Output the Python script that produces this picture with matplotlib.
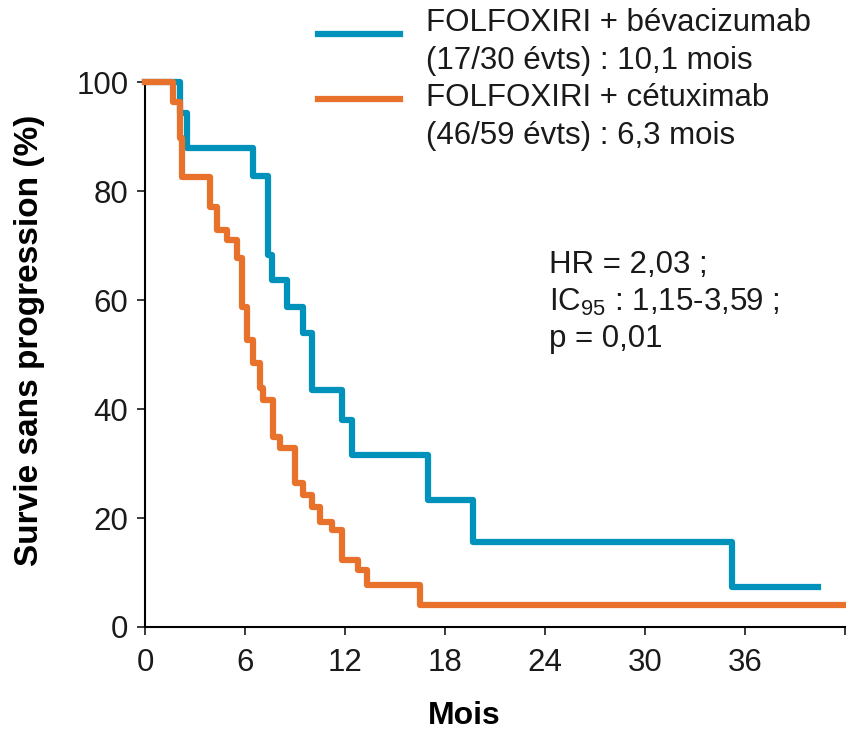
import matplotlib
matplotlib.use('Agg')
import matplotlib.pyplot as plt
from matplotlib.lines import Line2D

plt.rcParams['font.family'] = ['Liberation Sans', 'DejaVu Sans']
plt.rcParams['text.color'] = '#1a1a1a'

# Kaplan-Meier steps (months, % survival)
bev_t = [0, 2.1, 2.5, 6.5, 7.4, 7.6, 8.5, 9.5, 10.0, 11.8, 12.4, 17.0, 19.65, 35.2, 40.4]
bev_s = [100, 94.4, 87.9, 82.8, 68.3, 63.7, 58.7, 54.0, 43.5, 38.0, 31.6, 23.3, 15.6, 7.3, 7.3]

cet_t = [0, 1.7, 2.1, 2.2, 3.9, 4.3, 4.9, 5.5, 5.8, 6.1, 6.5, 6.9, 7.1, 7.7, 8.1, 9.0,
         9.5, 10.0, 10.5, 11.2, 11.8, 12.8, 13.3, 16.5, 42.0]
cet_s = [100, 96.4, 89.8, 82.6, 77.1, 72.9, 71.0, 67.7, 58.7, 52.7, 48.5, 43.9, 41.7, 34.9,
         32.9, 26.4, 24.2, 22.0, 19.3, 17.8, 12.3, 10.5, 7.7, 4.0, 4.0]

blue = '#0092BA'
orange = '#E8722C'

fig = plt.figure(figsize=(8.46, 7.31), dpi=100)
ax = fig.add_axes([145 / 846, 1 - 627 / 731, 700 / 846, (627 - 82.3) / 731])

ax.step(bev_t, bev_s, where='post', color=blue, lw=4.5, clip_on=False, zorder=3)
ax.step(cet_t, cet_s, where='post', color=orange, lw=4.5, clip_on=False, zorder=4)

ax.set_xlim(0, 42)
ax.set_ylim(0, 100)
ax.set_xticks([0, 6, 12, 18, 24, 30, 36, 42])
ax.set_xticklabels(['0', '6', '12', '18', '24', '30', '36', ''])
ax.set_yticks([0, 20, 40, 60, 80, 100])
ax.tick_params(direction='out', length=6, width=1.2, labelsize=22.5, colors='#1a1a1a')
ax.tick_params(axis='x', pad=9)
ax.tick_params(axis='y', pad=6)
for s in ['top', 'right']:
    ax.spines[s].set_visible(False)
for s in ['left', 'bottom']:
    ax.spines[s].set_linewidth(1.5)

ax.set_xlabel('Mois', fontsize=23, fontweight='bold')
ax.xaxis.set_label_coords((464 - 145) / 700, -0.135)
ax.set_ylabel('Survie sans progression (%)', fontsize=24, fontweight='bold')
ax.yaxis.set_label_coords(-0.143, 0.527)

# legend drawn by hand so that the line sits at the first text row
fs = 22.5
fig.add_artist(Line2D([318 / 846, 400 / 846], [1 - 34 / 731] * 2, color=blue, lw=4.5))
fig.add_artist(Line2D([318 / 846, 400 / 846], [1 - 99 / 731] * 2, color=orange, lw=4.5))
fig.text(426 / 846, 1 - 23 / 731, 'FOLFOXIRI + bévacizumab', fontsize=fs, va='center')
fig.text(426 / 846, 1 - 61 / 731, '(17/30 évts) : 10,1 mois', fontsize=fs, va='center')
fig.text(426 / 846, 1 - 98 / 731, 'FOLFOXIRI + cétuximab', fontsize=fs, va='center')
fig.text(426 / 846, 1 - 136 / 731, '(46/59 évts) : 6,3 mois', fontsize=fs, va='center')

fig.text(549 / 846, 1 - 265 / 731, 'HR = 2,03 ;', fontsize=fs, va='center')
fig.text(549 / 846, 1 - 302 / 731, r'IC$_{\mathregular{95}}$ : 1,15-3,59 ;', fontsize=fs, va='center')
fig.text(549 / 846, 1 - 339 / 731, 'p = 0,01', fontsize=fs, va='center')

fig.savefig('out.png', dpi=100)
